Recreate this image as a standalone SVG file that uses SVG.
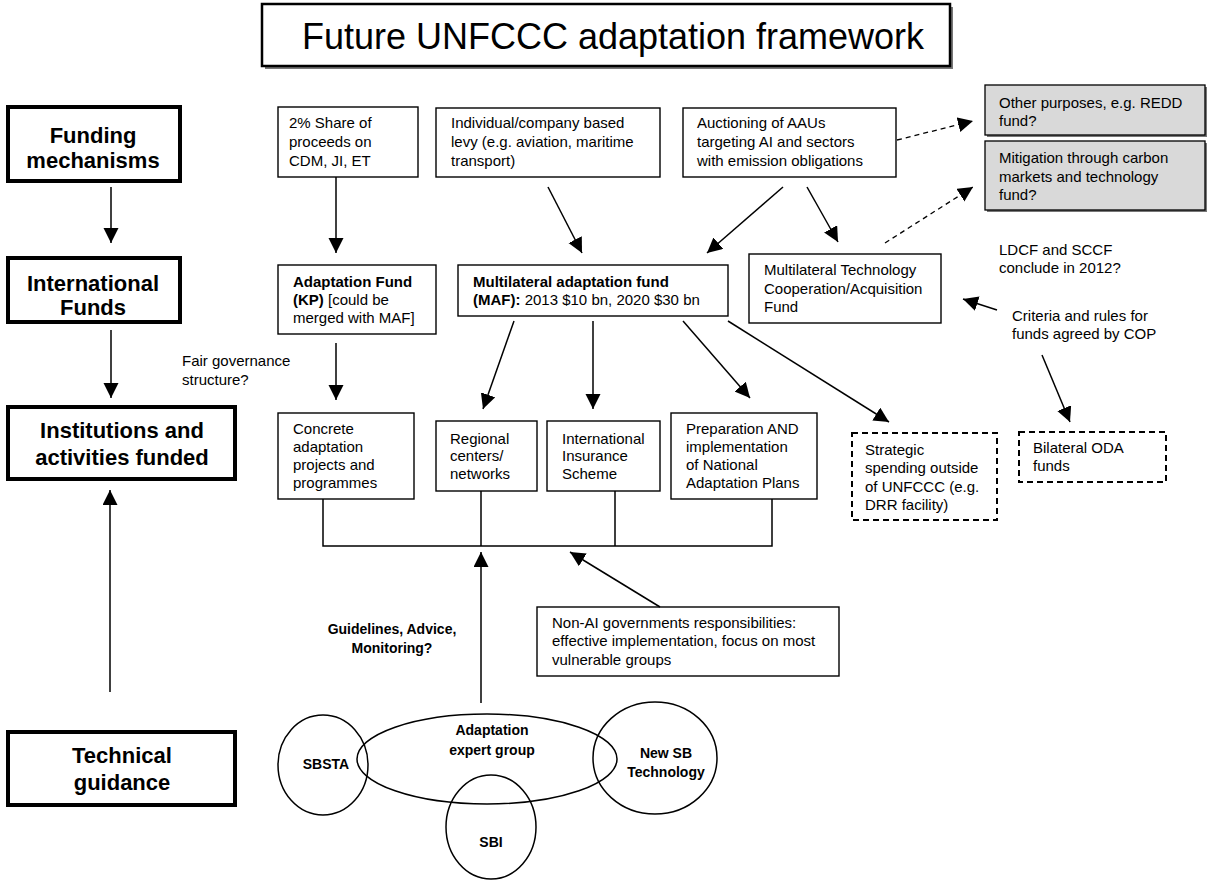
<svg xmlns="http://www.w3.org/2000/svg" width="1209" height="881" viewBox="0 0 1209 881">
<style>
text{font-family:"Liberation Sans",Arial,sans-serif;fill:#000}
.t{font-size:15px}
.b{font-weight:bold}
.h{font-size:22px;font-weight:bold;text-anchor:middle}
.g{font-size:14px;font-weight:bold;text-anchor:middle}
.box{fill:#fff;stroke:#000;stroke-width:1.4}
.hbox{fill:#fff;stroke:#000;stroke-width:4}
.dbox{fill:#fff;stroke:#000;stroke-width:2;stroke-dasharray:6 4}
.grey{fill:#d9d9d9;stroke:#000;stroke-width:1.3}
.sh{fill:#777;stroke:none}
.ln{fill:none;stroke:#000;stroke-width:1.5}
.ar{fill:none;stroke:#000;stroke-width:1.5;marker-end:url(#ah)}
.da{fill:none;stroke:#000;stroke-width:1.3;stroke-dasharray:5 4;marker-end:url(#ah)}
.el{fill:none;stroke:#000;stroke-width:1.5}
</style>
<defs>
<marker id="ah" markerUnits="userSpaceOnUse" markerWidth="16" markerHeight="16" refX="15" refY="7.5" orient="auto"><path d="M0,0 L15,7.5 L0,15 z" fill="#000"/></marker>
</defs>
<rect width="1209" height="881" fill="#fff"/>

<g id="title">
<rect class="sh" x="265" y="7" width="688" height="62"/>
<rect x="262" y="4" width="688" height="62" fill="#fff" stroke="#000" stroke-width="2.5"/>
<text x="613" y="49" style="font-size:36px;text-anchor:middle">Future UNFCCC adaptation framework</text>
</g>

<g id="hdr-funding">
<rect class="hbox" x="8" y="107" width="172" height="74"/>
<text class="h" x="93" y="143">Funding</text>
<text class="h" x="93" y="168">mechanisms</text>
</g>
<g id="hdr-intl">
<rect class="hbox" x="8" y="258" width="172" height="64"/>
<text class="h" x="93" y="291">International</text>
<text class="h" x="93" y="315">Funds</text>
</g>
<g id="hdr-inst">
<rect class="hbox" x="8" y="407" width="227" height="72"/>
<text class="h" x="122" y="438">Institutions and</text>
<text class="h" x="122" y="465">activities funded</text>
</g>
<g id="hdr-tech">
<rect class="hbox" x="8" y="732" width="227" height="73"/>
<text class="h" x="122" y="763">Technical</text>
<text class="h" x="122" y="790">guidance</text>
</g>

<g id="share">
<rect class="box" x="278" y="107" width="140" height="70"/>
<text class="t" x="289" y="128">2% Share of</text>
<text class="t" x="289" y="147">proceeds on</text>
<text class="t" x="289" y="166">CDM, JI, ET</text>
</g>
<g id="levy">
<rect class="box" x="436" y="108" width="224" height="69"/>
<text class="t" x="451" y="128">Individual/company based</text>
<text class="t" x="451" y="147">levy (e.g. aviation, maritime</text>
<text class="t" x="451" y="166">transport)</text>
</g>
<g id="auction">
<rect class="box" x="683" y="108" width="213" height="69"/>
<text class="t" x="697" y="128">Auctioning of AAUs</text>
<text class="t" x="697" y="147">targeting AI and sectors</text>
<text class="t" x="697" y="166">with emission obligations</text>
</g>
<g id="other">
<rect class="sh" x="987" y="87" width="220" height="50"/>
<rect class="grey" x="985" y="85" width="220" height="50"/>
<text class="t" x="999" y="108">Other purposes, e.g. REDD</text>
<text class="t" x="999" y="126">fund?</text>
</g>
<g id="mitigation">
<rect class="sh" x="987" y="143" width="220" height="69"/>
<rect class="grey" x="985" y="141" width="220" height="69"/>
<text class="t" x="999" y="163">Mitigation through carbon</text>
<text class="t" x="999" y="182">markets and technology</text>
<text class="t" x="999" y="200">fund?</text>
</g>

<g id="af">
<rect class="box" x="278" y="265" width="158" height="69"/>
<text class="t" x="293" y="287"><tspan class="b">Adaptation Fund</tspan></text>
<text class="t" x="293" y="305"><tspan class="b">(KP)</tspan>  [could be</text>
<text class="t" x="293" y="323">merged with MAF]</text>
</g>
<g id="maf">
<rect class="box" x="458" y="265" width="270" height="51"/>
<text class="t" x="473" y="287"><tspan class="b">Multilateral adaptation fund</tspan></text>
<text class="t" x="473" y="305"><tspan class="b">(MAF):</tspan> 2013 $10 bn, 2020 $30 bn</text>
</g>
<g id="mtf">
<rect class="box" x="749" y="254" width="192" height="69"/>
<text class="t" x="764" y="275">Multilateral Technology</text>
<text class="t" x="764" y="294">Cooperation/Acquisition</text>
<text class="t" x="764" y="312">Fund</text>
</g>
<g id="ldcf">
<text class="t" x="999" y="255">LDCF and SCCF</text>
<text class="t" x="999" y="273">conclude in 2012?</text>
</g>
<g id="criteria">
<text class="t" x="1012" y="321">Criteria and rules for</text>
<text class="t" x="1012" y="339">funds agreed by COP</text>
</g>
<g id="fair">
<text class="t" x="182" y="366">Fair governance</text>
<text class="t" x="182" y="385">structure?</text>
</g>

<g id="concrete">
<rect class="box" x="278" y="413" width="136" height="86"/>
<text class="t" x="293" y="434">Concrete</text>
<text class="t" x="293" y="452">adaptation</text>
<text class="t" x="293" y="470">projects and</text>
<text class="t" x="293" y="488">programmes</text>
</g>
<g id="regional">
<rect class="box" x="436" y="421" width="101" height="70"/>
<text class="t" x="450" y="444">Regional</text>
<text class="t" x="450" y="461">centers/</text>
<text class="t" x="450" y="479">networks</text>
</g>
<g id="insurance">
<rect class="box" x="547" y="421" width="113" height="70"/>
<text class="t" x="562" y="444">International</text>
<text class="t" x="562" y="461">Insurance</text>
<text class="t" x="562" y="479">Scheme</text>
</g>
<g id="nap">
<rect class="box" x="671" y="413" width="146" height="86"/>
<text class="t" x="686" y="434">Preparation AND</text>
<text class="t" x="686" y="452">implementation</text>
<text class="t" x="686" y="470">of National</text>
<text class="t" x="686" y="488">Adaptation Plans</text>
</g>
<g id="strategic">
<rect class="dbox" x="852" y="433" width="145" height="87"/>
<text class="t" x="865" y="455">Strategic</text>
<text class="t" x="865" y="473">spending outside</text>
<text class="t" x="865" y="492">of UNFCCC (e.g.</text>
<text class="t" x="865" y="510">DRR facility)</text>
</g>
<g id="bilateral">
<rect class="dbox" x="1019" y="432" width="147" height="50"/>
<text class="t" x="1033" y="453">Bilateral ODA</text>
<text class="t" x="1033" y="471">funds</text>
</g>
<g id="nonai">
<rect class="box" x="537" y="607" width="302" height="69"/>
<text class="t" x="552" y="628">Non-AI governments responsibilities:</text>
<text class="t" x="552" y="646">effective implementation, focus on most</text>
<text class="t" x="552" y="665">vulnerable groups</text>
</g>
<g id="guidelines">
<text class="g" x="392" y="634">Guidelines, Advice,</text>
<text class="g" x="392" y="653">Monitoring?</text>
</g>

<g id="sbsta">
<ellipse class="el" cx="323" cy="765" rx="45" ry="50"/>
<text class="g" x="326" y="769">SBSTA</text>
</g>
<g id="aeg">
<ellipse class="el" cx="487" cy="759" rx="130" ry="45"/>
<text class="g" x="492" y="735">Adaptation</text>
<text class="g" x="492" y="755">expert group</text>
</g>
<g id="sbi">
<ellipse class="el" cx="491" cy="827" rx="45" ry="52"/>
<text class="g" x="491" y="847">SBI</text>
</g>
<g id="newsb">
<ellipse class="el" cx="655" cy="758" rx="62" ry="56"/>
<text class="g" x="666" y="758">New  SB</text>
<text class="g" x="666" y="777">Technology</text>
</g>

<g id="connectors">
<line class="ar" x1="111" y1="187" x2="111" y2="243"/>
<line class="ar" x1="111" y1="330" x2="111" y2="398"/>
<line class="ar" x1="110" y1="692" x2="110" y2="490"/>
<line class="ar" x1="336" y1="177" x2="336" y2="253"/>
<line class="ar" x1="548" y1="187" x2="582" y2="253"/>
<line class="ar" x1="783" y1="187" x2="707" y2="253"/>
<line class="ar" x1="807" y1="187" x2="838" y2="242"/>
<line class="da" x1="897" y1="140" x2="973" y2="121"/>
<line class="da" x1="885" y1="243" x2="973" y2="187"/>
<line class="ar" x1="336" y1="343" x2="336" y2="400"/>
<line class="ar" x1="514" y1="321" x2="483" y2="409"/>
<line class="ar" x1="593" y1="321" x2="593" y2="409"/>
<line class="ar" x1="683" y1="321" x2="750" y2="398"/>
<line class="ar" x1="728" y1="321" x2="889" y2="422"/>
<line class="ar" x1="997" y1="310" x2="963" y2="299"/>
<line class="ar" x1="1042" y1="355" x2="1070" y2="422"/>
<path class="ln" d="M323,499 V546 H772 V499 M481,491 V546 M615,491 V546"/>
<line class="ar" x1="481" y1="703" x2="481" y2="552"/>
<line class="ar" x1="660" y1="607" x2="570" y2="552"/>
</g>
</svg>
